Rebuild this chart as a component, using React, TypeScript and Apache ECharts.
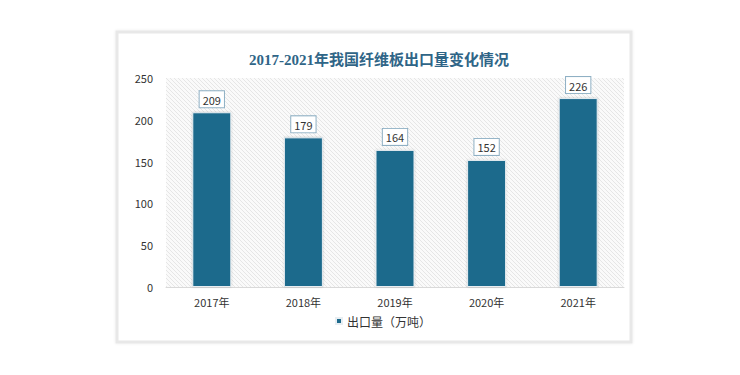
import React, { useEffect, useRef } from "react";
import * as echarts from "echarts";

const categories = ["2017年", "2018年", "2019年", "2020年", "2021年"];
const exportVolume = [209, 179, 164, 152, 226];
const seriesName = "出口量（万吨）";
const titleText = "2017-2021年我国纤维板出口量变化情况";

function makePattern(): HTMLCanvasElement {
  const c = document.createElement("canvas");
  c.width = 4;
  c.height = 4;
  const ctx = c.getContext("2d")!;
  ctx.fillStyle = "#fafafa";
  ctx.fillRect(0, 0, 4, 4);
  ctx.strokeStyle = "#e6e6e6";
  ctx.lineWidth = 1;
  ctx.beginPath();
  ctx.moveTo(0, 0);
  ctx.lineTo(4, 4);
  ctx.moveTo(-1, 3);
  ctx.lineTo(1, 5);
  ctx.moveTo(3, -1);
  ctx.lineTo(5, 1);
  ctx.stroke();
  return c;
}

export default function App() {
  const ref = useRef<HTMLDivElement>(null);
  useEffect(() => {
    const chart = echarts.init(ref.current!, null, { renderer: "svg" });
    const font = "'Microsoft YaHei', 'Noto Sans CJK SC', sans-serif";
    chart.setOption({
      animation: false,
      backgroundColor: "#ffffff",
      title: {
        text: titleText,
        left: 374,
        top: 47,
        textAlign: "center",
        textStyle: {
          fontSize: 15,
          fontWeight: "bold",
          color: "#2f6587",
          fontFamily: "'Liberation Serif', 'Noto Sans CJK SC', serif",
        },
      },
      graphic: [
        {
          type: "rect",
          z: -10,
          shape: { x: 117, y: 32, width: 514, height: 310 },
          style: {
            fill: "#ffffff",
            stroke: "#e8e8e8",
            lineWidth: 3,
            shadowBlur: 3,
            shadowColor: "rgba(0,0,0,0.08)",
          },
        },
      ],
      grid: {
        left: 166,
        right: 116,
        top: 78,
        bottom: 88,
        show: true,
        borderWidth: 0,
        backgroundColor: { image: makePattern(), repeat: "repeat" },
      },
      legend: {
        data: [{ name: seriesName, icon: "rect" }],
        left: 330,
        top: 310,
        itemWidth: 6,
        itemHeight: 6,
        itemGap: 4,
        textStyle: { fontSize: 12, color: "#333", fontFamily: font },
      },
      xAxis: {
        type: "category",
        data: categories,
        axisLine: { show: true, lineStyle: { color: "#d9d9d9" } },
        axisTick: { show: false },
        axisLabel: { fontSize: 11, color: "#333", margin: 9, fontFamily: font },
      },
      yAxis: {
        type: "value",
        min: 0,
        max: 250,
        interval: 50,
        axisLine: { show: false },
        axisTick: { show: false },
        splitLine: { show: false },
        axisLabel: { fontSize: 11, color: "#333", margin: 13, fontFamily: font },
      },
      series: [
        {
          name: seriesName,
          type: "bar",
          data: exportVolume,
          barWidth: 39,
          itemStyle: {
            color: "#1d6a8c",
            borderColor: "#e8eef2",
            borderWidth: 1,
            shadowBlur: 2,
            shadowColor: "rgba(0,0,0,0.2)",
          },
          label: {
            show: true,
            position: "top",
            distance: 5,
            fontSize: 11,
            color: "#333",
            fontFamily: font,
            backgroundColor: "#ffffff",
            borderColor: "#8fb0c4",
            borderWidth: 1,
            padding: [3, 3, 2, 3],
          },
        },
      ],
    });
    return () => chart.dispose();
  }, []);
  return (
    <div
      ref={ref}
      style={{ position: "absolute", left: 0, top: 0, width: 740, height: 375 }}
    />
  );
}
